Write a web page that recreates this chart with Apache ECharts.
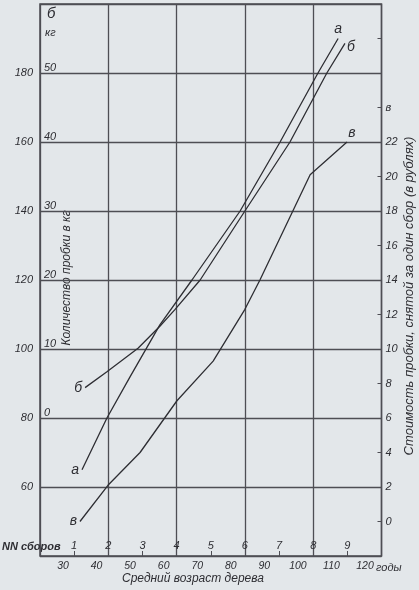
<!DOCTYPE html>
<html>
<head>
<meta charset="utf-8">
<script src="https://cdn.jsdelivr.net/npm/echarts@6/dist/echarts.min.js"></script>
<style>
  html, body { margin: 0; padding: 0; background: #e3e7ea; }
  #chart { width: 419px; height: 590px; }
</style>
</head>
<body>
<div id="chart"></div>
<script>
// curve а (left outer scale)
const sborA = [1.23, 1.96, 2.64, 3.51, 4.45, 5.86, 7.03, 8.14, 8.73];
const valA = [65, 80, 92, 107, 120, 140, 160, 180, 190];
// curve б (кг)
const sborB = [1.32, 1.96, 2.87, 3.51, 3.95, 4.69, 6.0, 7.32, 8.4, 8.93];
const kgB = [4.4, 6.7, 10.1, 13.3, 15.7, 20, 30, 40, 50, 54.3];
// curve в (рубли)
const sborV = [1.17, 1.99, 2.93, 4.01, 5.07, 6.0, 6.44, 7.91, 8.99];
const rubV = [0, 2.1, 4.0, 7.0, 9.3, 12.3, 14, 20.1, 22];

// tick labels
const sborNums = [1, 2, 3, 4, 5, 6, 7, 8, 9];
const ageTicks = [30, 40, 50, 60, 70, 80, 90, 100, 110, 120];
const leftTicks = [60, 80, 100, 120, 140, 160, 180];
const kgTicks = [0, 10, 20, 30, 40, 50];
const rubTicks = [0, 2, 4, 6, 8, 10, 12, 14, 16, 18, 20, 22];

const ink = "#2e2e33";
const font = "Liberation Sans";

function pts(xs, ys) {
  return xs.map((x, i) => [x, ys[i]]);
}

// letter at the first and last point of a curve
function withLabels(data, letter, first, last) {
  const out = data.map((d) => ({ value: d }));
  out[0].label = Object.assign({ show: true, formatter: letter }, first);
  out[out.length - 1].label = Object.assign({ show: true, formatter: letter }, last);
  return out;
}

function curve(name, yIdx, data) {
  return {
    name: name,
    type: "line",
    xAxisIndex: 0,
    yAxisIndex: yIdx,
    symbol: "circle",
    symbolSize: 0,
    silent: true,
    lineStyle: { color: ink, width: 1.3 },
    label: { show: false, color: ink, fontFamily: font, fontStyle: "italic", fontSize: 14 },
    data: data,
  };
}

const chart = echarts.init(document.getElementById("chart"));

const option = {
  backgroundColor: "#e3e7ea",
  animation: false,
  grid: [
    { left: 40, right: 37.5, top: 4, bottom: 34, show: true, borderColor: "#4a4a4f", borderWidth: 1.5 },
    { left: 63, right: 54, top: 556, height: 2 },
  ],
  xAxis: [
    {
      type: "value", gridIndex: 0, min: 0, max: 10, interval: 2, position: "bottom",
      axisLine: { show: false, onZero: false }, axisTick: { show: false }, axisLabel: { show: false },
      splitLine: { show: true, lineStyle: { color: "#4e4e54", width: 1.3 } },
    },
    {
      type: "value", gridIndex: 0, min: 0, max: 10, interval: 1, position: "bottom",
      axisLine: { show: false, onZero: false },
      axisTick: { show: true, inside: true, length: 5, lineStyle: { color: "#4e4e54" } },
      splitLine: { show: false },
      axisLabel: {
        inside: true, margin: 5, color: ink, fontFamily: font, fontStyle: "italic", fontSize: 11,
        formatter: (v) => (sborNums.includes(v) ? String(v) : ""),
      },
    },
    {
      type: "value", gridIndex: 1, min: 30, max: 120, interval: 10,
      axisLine: { show: false, onZero: false }, axisTick: { show: false }, splitLine: { show: false },
      axisLabel: {
        margin: 3, color: ink, fontFamily: font, fontStyle: "italic", fontSize: 10.5,
        formatter: (v) => (ageTicks.includes(v) ? String(v) : ""),
      },
    },
  ],
  yAxis: [
    {
      type: "value", gridIndex: 0, min: 40, max: 200, interval: 20, position: "left",
      axisLine: { show: false }, axisTick: { show: false },
      splitLine: { show: true, lineStyle: { color: "#4e4e54", width: 1.3 } },
      axisLabel: {
        margin: 7, color: ink, fontFamily: font, fontStyle: "italic", fontSize: 11,
        formatter: (v) => (leftTicks.includes(v) ? String(v) : ""),
      },
    },
    {
      type: "value", gridIndex: 0, min: -20, max: 60, interval: 10, position: "left",
      axisLine: { show: false }, axisTick: { show: false }, splitLine: { show: false },
      axisLabel: {
        inside: true, margin: 4, verticalAlign: "bottom",
        color: ink, fontFamily: font, fontStyle: "italic", fontSize: 11,
        formatter: (v) => (kgTicks.includes(v) ? String(v) : ""),
      },
    },
    {
      type: "value", gridIndex: 0, min: -2, max: 30, interval: 2, position: "right",
      axisLine: { show: false }, splitLine: { show: false },
      axisTick: { show: true, inside: true, length: 4, lineStyle: { color: "#4e4e54" } },
      axisLabel: {
        margin: 4, color: ink, fontFamily: font, fontStyle: "italic", fontSize: 11,
        formatter: (v) => (rubTicks.includes(v) ? String(v) : v === 24 ? "в" : ""),
      },
    },
    { type: "value", gridIndex: 1, show: false },
  ],
  graphic: [
    { type: "text", left: 47, top: 6, style: { text: "б", fill: ink, font: "italic 15px " + font } },
    { type: "text", left: 45, top: 27, style: { text: "кг", fill: ink, font: "italic 11px " + font } },
    { type: "text", left: 2, top: 541, style: { text: "NN сборов", fill: ink, font: "italic bold 11px " + font } },
    { type: "text", left: 376, top: 562, style: { text: "годы", fill: ink, font: "italic 11px " + font } },
    { type: "text", left: 122, top: 573, style: { text: "Средний возраст дерева", fill: ink, font: "italic 12px " + font } },
    {
      type: "text", x: 67, y: 278, rotation: Math.PI / 2,
      style: { text: "Количество пробки в кг", fill: ink, font: "italic 12px " + font, align: "center", verticalAlign: "middle" },
    },
    {
      type: "text", x: 409, y: 296, rotation: Math.PI / 2,
      style: { text: "Стоимость пробки, снятой за один сбор (в рублях)", fill: ink, font: "italic 13px " + font, align: "center", verticalAlign: "middle" },
    },
  ],
  series: [
    curve("а", 0, withLabels(pts(sborA, valA), "а",
      { position: "left", distance: 3 }, { position: "top", distance: 2 })),
    curve("б", 1, withLabels(pts(sborB, kgB), "б",
      { position: "left", distance: 3 }, { position: "right", distance: 2, offset: [0, 4] })),
    curve("в", 2, withLabels(pts(sborV, rubV), "в",
      { position: "left", distance: 3 }, { position: "top", distance: 2, offset: [5, 0] })),
  ],
};

chart.setOption(option);
</script>
</body>
</html>
